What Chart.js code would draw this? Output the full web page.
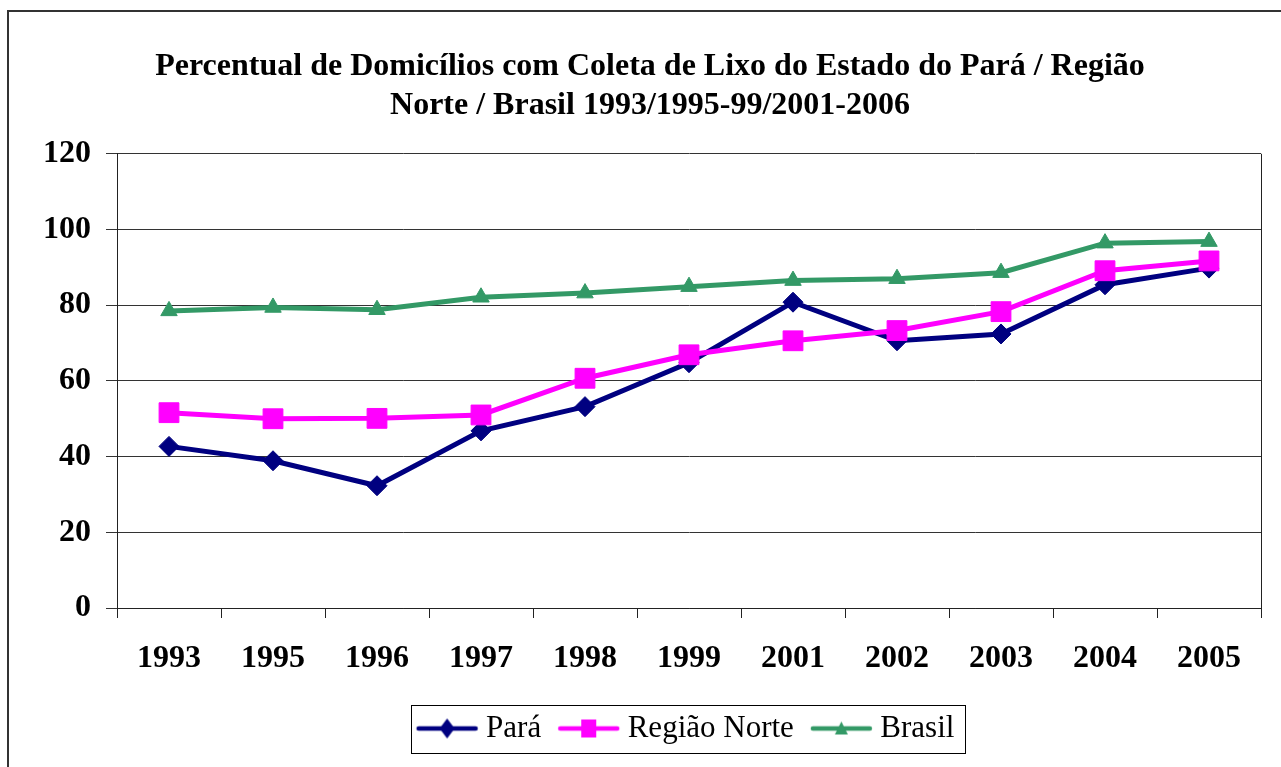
<!DOCTYPE html>
<html>
<head>
<meta charset="utf-8">
<script src="https://cdn.jsdelivr.net/npm/chart.js@4.4.1/dist/chart.umd.min.js"></script>
<style>
  html, body { margin: 0; padding: 0; background: #fff; }
  #chart { display: block; }
</style>
</head>
<body>
<canvas id="chart" width="1281" height="767"></canvas>
<script>
// chart data
const years = ['1993', '1995', '1996', '1997', '1998', '1999', '2001', '2002', '2003', '2004', '2005']
const para = [42.7, 38.9, 32.3, 46.8, 53.2, 64.8, 80.8, 70.6, 72.4, 85.4, 89.8]
const regiaoNorte = [51.6, 50.0, 50.1, 51.0, 60.7, 66.9, 70.6, 73.3, 78.3, 89.1, 91.7]
const brasil = [78.5, 79.4, 78.8, 82.1, 83.2, 84.9, 86.5, 87.0, 88.6, 96.4, 96.8]
const yTicks = [0, 20, 40, 60, 80, 100, 120]

const titleLines = [
  'Percentual de Domicílios com Coleta de Lixo do Estado do Pará / Região',
  'Norte / Brasil 1993/1995-99/2001-2006'
]

const serif = "'Times New Roman', 'Liberation Serif', serif"

// Small canvas with a line and a marker, used as legend symbol
const legendSymbol = (color, shape) => {
  const c = document.createElement('canvas')
  c.width = 65
  c.height = 26
  const ctx = c.getContext('2d')
  const cy = 13
  ctx.strokeStyle = color
  ctx.fillStyle = color
  ctx.lineWidth = 4.5
  ctx.lineCap = 'round'
  ctx.beginPath()
  ctx.moveTo(4, cy)
  ctx.lineTo(61, cy)
  ctx.stroke()
  ctx.beginPath()
  if (shape === 'diamond') {
    ctx.moveTo(32.5, cy - 10)
    ctx.lineTo(40, cy)
    ctx.lineTo(32.5, cy + 10)
    ctx.lineTo(25, cy)
  } else if (shape === 'square') {
    ctx.rect(25, cy - 9, 15, 18)
  } else {
    ctx.moveTo(32.5, cy - 7)
    ctx.lineTo(39, cy + 6)
    ctx.lineTo(26, cy + 6)
  }
  ctx.closePath()
  ctx.fill()
  return c
}

const symbols = [
  legendSymbol('#000080', 'diamond'),
  legendSymbol('#ff00ff', 'square'),
  legendSymbol('#339966', 'triangle')
]

// Outer frame, plot right edge and legend box
const framePlugin = {
  id: 'frames',
  beforeDraw(chart) {
    const ctx = chart.ctx
    ctx.save()
    ctx.fillStyle = '#fff'
    ctx.fillRect(0, 0, chart.width, chart.height)
    ctx.strokeStyle = '#333'
    ctx.lineWidth = 2
    ctx.strokeRect(8, 11, 1300, 800)
    ctx.restore()
  },
  beforeDatasetsDraw(chart) {
    const { ctx, chartArea } = chart
    ctx.save()
    ctx.strokeStyle = '#222'
    ctx.lineWidth = 1
    ctx.beginPath()
    ctx.moveTo(Math.round(chartArea.right) + 0.5, chartArea.top)
    ctx.lineTo(Math.round(chartArea.right) + 0.5, chartArea.bottom)
    ctx.stroke()
    ctx.restore()
  },
  afterDraw(chart) {
    const boxes = chart.legend.legendHitBoxes
    if (!boxes || !boxes.length) return
    const left = Math.min(...boxes.map(b => b.left)) - 13
    const right = Math.max(...boxes.map(b => b.left + b.width)) + 10
    const top = boxes[0].top - 8
    const bottom = boxes[0].top + boxes[0].height + 9
    const ctx = chart.ctx
    ctx.save()
    ctx.strokeStyle = '#000'
    ctx.lineWidth = 1
    ctx.strokeRect(Math.round(left) + 0.5, Math.round(top) + 0.5, Math.round(right - left), Math.round(bottom - top))
    ctx.restore()
  }
}

new Chart(document.getElementById('chart'), {
  type: 'line',
  data: {
    labels: years,
    datasets: [
      {
        label: 'Pará',
        data: para,
        borderColor: '#000080',
        backgroundColor: '#000080',
        pointStyle: 'rectRot',
        pointRadius: 10,
        order: 3
      },
      {
        label: 'Região Norte',
        data: regiaoNorte,
        borderColor: '#ff00ff',
        backgroundColor: '#ff00ff',
        pointStyle: 'rect',
        pointRadius: 14,
        order: 2
      },
      {
        label: 'Brasil',
        data: brasil,
        borderColor: '#339966',
        backgroundColor: '#339966',
        pointStyle: 'triangle',
        pointRadius: 9.5,
        order: 1
      }
    ]
  },
  options: {
    responsive: false,
    animation: false,
    devicePixelRatio: 1,
    layout: { padding: { left: 39, right: 20, top: 0, bottom: 13 } },
    elements: {
      line: { borderWidth: 5, tension: 0 },
      point: { borderWidth: 1, hoverRadius: 10 }
    },
    plugins: {
      title: {
        display: true,
        text: titleLines,
        color: '#000',
        font: { family: serif, size: 32, weight: 'bold', lineHeight: 1.2 },
        padding: { top: 48, bottom: 29 }
      },
      legend: {
        position: 'bottom',
        fullSize: false,
        labels: {
          color: '#000',
          font: { family: serif, size: 31 },
          usePointStyle: true,
          pointStyleWidth: 47,
          padding: 24,
          generateLabels(chart) {
            return chart.data.datasets.map((ds, i) => ({
              text: ds.label,
              datasetIndex: i,
              pointStyle: symbols[i],
              fillStyle: ds.borderColor,
              strokeStyle: ds.borderColor,
              lineWidth: 0,
              hidden: false
            }))
          }
        }
      },
      tooltip: { enabled: false }
    },
    scales: {
      x: {
        offset: true,
        afterFit(scale) { scale.height = 81 },
        grid: {
          offset: true,
          drawOnChartArea: false,
          tickLength: 10,
          color: '#222'
        },
        border: { color: '#222', width: 1 },
        ticks: {
          color: '#000',
          padding: 22,
          maxRotation: 0,
          font: { family: serif, size: 32, weight: 'bold' }
        }
      },
      y: {
        min: 0,
        max: 120,
        afterFit(scale) { scale.width = 78 },
        afterBuildTicks(scale) { scale.ticks = yTicks.map(v => ({ value: v })) },
        grid: { color: '#333', tickLength: 11 },
        border: { color: '#222', width: 1 },
        ticks: {
          color: '#000',
          padding: 15,
          font: { family: serif, size: 32, weight: 'bold' }
        }
      }
    }
  },
  plugins: [framePlugin]
})
</script>
</body>
</html>
